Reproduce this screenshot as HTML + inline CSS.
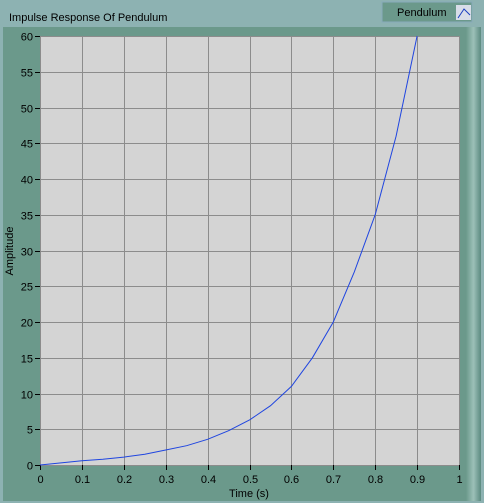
<!DOCTYPE html>
<html><head><meta charset="utf-8"><style>
body{margin:0;width:484px;height:503px;overflow:hidden;background:#8fb3b3;font-family:"Liberation Sans",sans-serif;}
</style></head><body>
<svg width="484" height="503" style="position:absolute;left:0;top:0">
<defs><linearGradient id="edge" x1="0" x2="1" y1="0" y2="0"><stop offset="0" stop-color="#6b998b"/><stop offset="0.5" stop-color="#9cc0b8"/><stop offset="1" stop-color="#5b8a80"/></linearGradient></defs>
<rect x="0" y="0" width="484" height="503" fill="#8db2b2"/>
<rect x="3" y="27" width="478" height="474" fill="#6b998b"/>
<rect x="466" y="27" width="15" height="474" fill="url(#edge)"/>
<text x="9" y="21" font-size="11" fill="#000">Impulse Response Of Pendulum</text>
<g>
<rect x="382" y="2" width="90" height="20" fill="#6b998b" stroke="#8ab" stroke-width="1"/>
<text x="397" y="16" font-size="11" fill="#000">Pendulum</text>
<rect x="456" y="5" width="15" height="15" fill="#d8dde8"/>
<polyline points="458,18 464,9 470,15" fill="none" stroke="#1a3fc0" stroke-width="1"/>
</g>
<rect x="40" y="36" width="419" height="429" fill="#d4d4d4"/>
<g id="grid"></g>
<g id="axes"></g>
<polyline id="curve" fill="none" stroke="#1f45e0" stroke-width="1"/>
<text x="249" y="497" font-size="11" text-anchor="middle" fill="#000">Time (s)</text>
<text transform="translate(13,251) rotate(-90)" font-size="11" text-anchor="middle" fill="#000">Amplitude</text>
</svg>
<script>
const times=[0,0.05,0.1,0.15,0.2,0.25,0.3,0.35,0.4,0.45,0.5,0.55,0.6,0.65,0.7,0.75,0.8,0.85,0.9];
const amps=[0,0.3,0.6,0.8,1.1,1.5,2.1,2.7,3.6,4.8,6.3,8.3,11,15,20,27,35,46,60];
const xTicks=[0,0.1,0.2,0.3,0.4,0.5,0.6,0.7,0.8,0.9,1];
const xTickLabels=["0","0.1","0.2","0.3","0.4","0.5","0.6","0.7","0.8","0.9","1"];
const yTicks=[0,5,10,15,20,25,30,35,40,45,50,55,60];
const X0=40,X1=459,Y0=465,Y1=36;
const sx=v=>X0+(v-0)/(1-0)*(X1-X0);
const sy=v=>Y0-(v-0)/(60-0)*(Y0-Y1);
const NS="http://www.w3.org/2000/svg";
const grid=document.getElementById('grid'),axes=document.getElementById('axes');
function mk(tag,attrs,parent){const e=document.createElementNS(NS,tag);for(const k in attrs)e.setAttribute(k,attrs[k]);parent.appendChild(e);return e;}
xTicks.forEach((t,i)=>{
 const x=Math.round(sx(t))+0.5;
 const g=mk('line',{x1:x,x2:x,y1:Y1,y2:Y0,stroke:'#8c8c8c','stroke-width':1},grid);
 
 
 const tk=mk('line',{x1:x,x2:x,y1:Y0,y2:Y0+5,stroke:'#000'},axes);
 
 
 const tx=mk('text',{x:x,y:Y0+18,'font-size':11,'text-anchor':'middle',fill:'#000'},axes);
 tx.textContent=xTickLabels[i];
 
 
});
yTicks.forEach(v=>{
 const y=Math.round(sy(v))+0.5;
 const g=mk('line',{x1:X0,x2:X1,y1:y,y2:y,stroke:'#8c8c8c','stroke-width':1},grid);
 
 
 const tk=mk('line',{x1:X0-5,x2:X0,y1:y,y2:y,stroke:'#000'},axes);
 
 
 const tx=mk('text',{x:X0-7,y:y+4,'font-size':11,'text-anchor':'end',fill:'#000'},axes);
 tx.textContent=String(v);
 
 
});
document.getElementById('curve').setAttribute('points',times.map((t,i)=>sx(t).toFixed(1)+','+sy(amps[i]).toFixed(1)).join(' '));
</script>
</body></html>
